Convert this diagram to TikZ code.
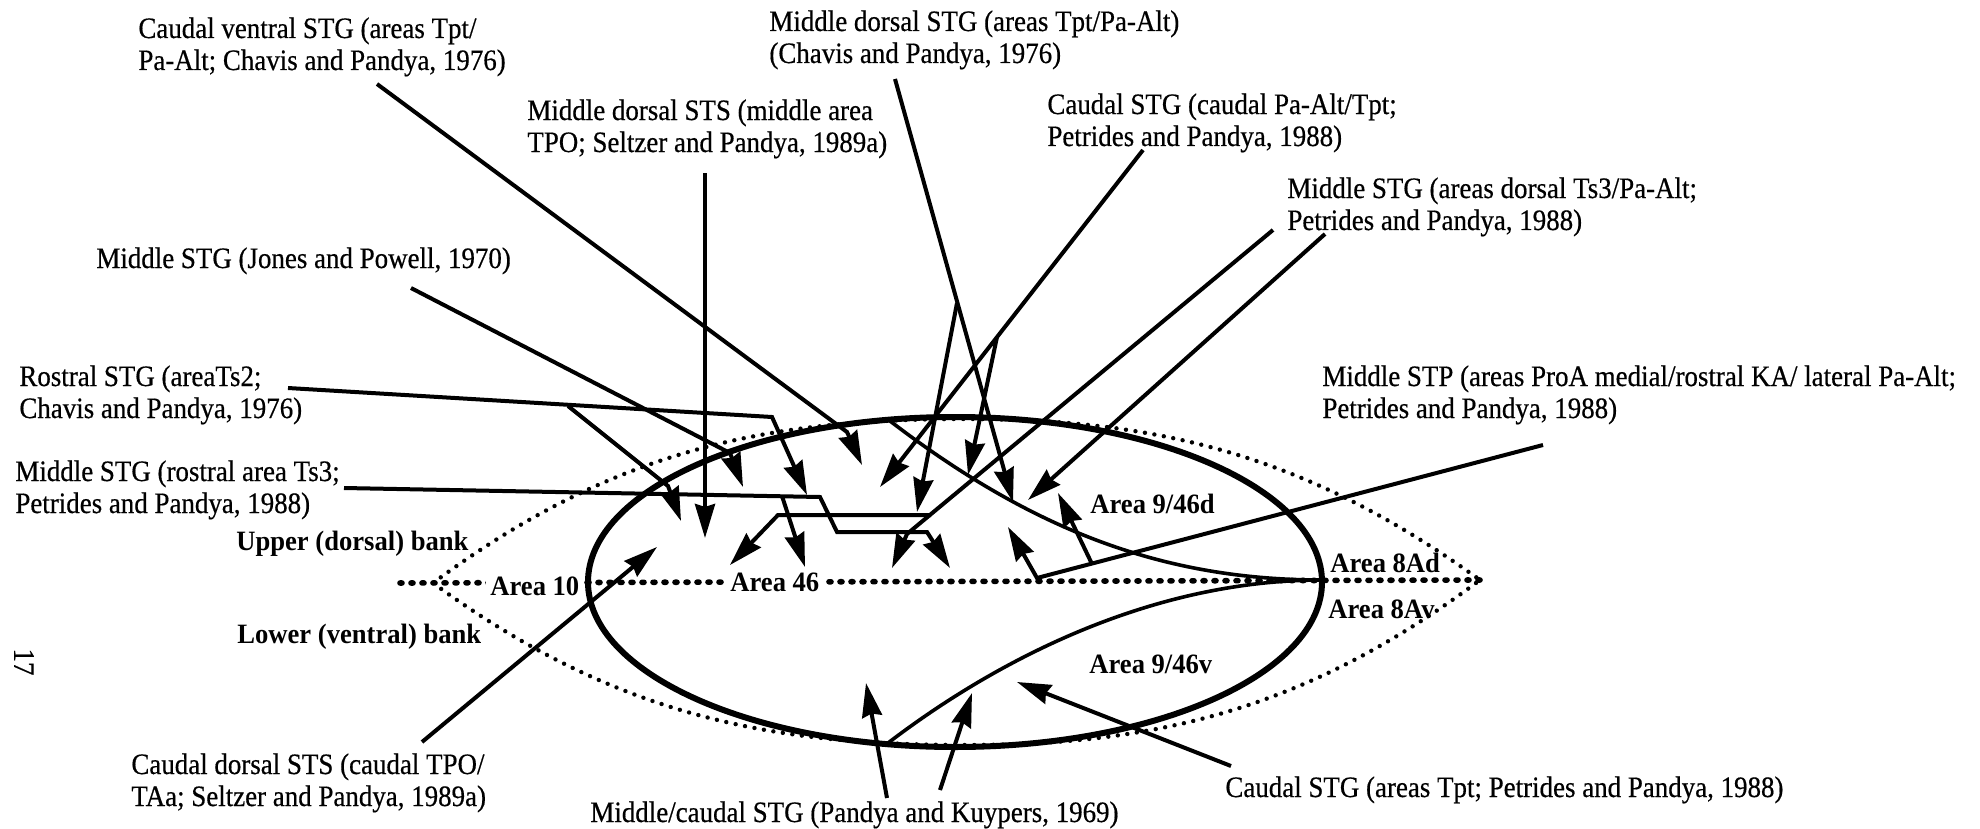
\documentclass[tikz,border=0pt]{standalone}
\usepackage{fontspec}
\setmainfont{Liberation Serif}[
  UprightFeatures={FakeStretch=0.91,FakeBold=0.5},
  BoldFeatures={FakeStretch=0.95}]
\usetikzlibrary{arrows.meta}
% two-line label whose baseline is that of its first line
\newcommand{\labtwo}[2]{\vtop{\hbox{\strut #1}\hbox{\strut #2}}}
\begin{document}
\begin{tikzpicture}[x=0.5pt,y=-0.5pt,
  lbl/.style={anchor=base west,inner sep=0pt,font=\fontsize{14.8}{16}\selectfont},
  area/.style={anchor=base west,inner sep=0pt,font=\fontsize{14}{16}\selectfont\bfseries},
  link/.style={line width=2pt},
  arr/.style={link,-{Stealth[length=17pt,width=10pt,inset=1.5pt]}},
  rim/.style={line width=3pt},
  border/.style={line width=1.8pt},
  lens/.style={line width=2.2pt,line cap=round,dash pattern=on 0pt off 4.8pt},
  fundus/.style={line width=2.8pt,line cap=round,dash pattern=on 1pt off 4.5pt}]
\useasboundingbox (0,0) rectangle (1980,829);

% sulcal lips (dotted lens) and fundus
\draw[lens] (433,583) .. controls (610,452) and (760,420) .. (956,419)
  .. controls (1152,418) and (1303,452) .. (1480,580)
  .. controls (1303,712) and (1152,746) .. (956,745)
  .. controls (760,744) and (610,712) .. (433,583);
\draw[fundus] (400,583) -- (1480,580);

% area labels sitting on the fundus
\node[area,fill=white,inner xsep=2pt] (a10) at (486,595) {Area 10};
\node[area,fill=white,inner xsep=2pt] (a46) at (726,591) {Area 46};

% prefrontal region and its subdivisions
\draw[rim] (955,582) ellipse [x radius=367, y radius=165];
\draw[border] (890,421) .. controls (1030,528) and (1160,580) .. (1322,580);
\draw[border] (888,743) .. controls (998,659) and (1152,580) .. (1322,580);

\node[area] (a946d) at (1090,513) {Area 9/46d};
\node[area] (a946v) at (1089,673) {Area 9/46v};
\node[area] (a8ad) at (1330,572) {Area 8Ad};
\node[area] (a8av) at (1328,618) {Area 8Av};
\node[area] (upper) at (236,550) {Upper (dorsal) bank};
\node[area] (lower) at (237,643) {Lower (ventral) bank};

% source labels
\node[lbl] (cvstg) at (138,38) {\labtwo{Caudal ventral STG (areas Tpt/}{Pa-Alt; Chavis and Pandya, 1976)}};
\node[lbl] (mdsts) at (527,120) {\labtwo{Middle dorsal STS (middle area}{TPO; Seltzer and Pandya, 1989a)}};
\node[lbl] (mdstg) at (769,31) {\labtwo{Middle dorsal STG (areas Tpt/Pa-Alt)}{(Chavis and Pandya, 1976)}};
\node[lbl] (cstga) at (1047,114) {\labtwo{Caudal STG (caudal Pa-Alt/Tpt;}{Petrides and Pandya, 1988)}};
\node[lbl] (mstgd) at (1287,198) {\labtwo{Middle STG (areas dorsal Ts3/Pa-Alt;}{Petrides and Pandya, 1988)}};
\node[lbl] (mstp) at (1322,386) {\labtwo{Middle STP (areas ProA medial/rostral KA/ lateral Pa-Alt;}{Petrides and Pandya, 1988)}};
\node[lbl] (mstgjp) at (96,268) {Middle STG (Jones and Powell, 1970)};
\node[lbl] (rstg) at (19,386) {\labtwo{Rostral STG (areaTs2;}{Chavis and Pandya, 1976)}};
\node[lbl] (mstgr) at (15,481) {\labtwo{Middle STG (rostral area Ts3;}{Petrides and Pandya, 1988)}};
\node[lbl] (cdsts) at (131,774) {\labtwo{Caudal dorsal STS (caudal TPO/}{TAa; Seltzer and Pandya, 1989a)}};
\node[lbl] (mcstg) at (590,822) {Middle/caudal STG (Pandya and Kuypers, 1969)};
\node[lbl] (cstgb) at (1225,797) {Caudal STG (areas Tpt; Petrides and Pandya, 1988)};
\node[lbl,rotate=-90,anchor=center] (page) at (24,662) {17};

% connector points
\coordinate (cv-s) at (377,84);   \coordinate (cv-k) at (847,432);  \coordinate (cv-t) at (862,465);
\coordinate (sts-s) at (705,173); \coordinate (sts-t) at (705,538);
\coordinate (l1-s) at (895,79);   \coordinate (l1-t) at (1013,502);
\coordinate (l1-b) at (957,303);  \coordinate (l1-bt) at (917,512);
\coordinate (l2-s) at (1143,150); \coordinate (l2-t) at (880,487);
\coordinate (l2-b) at (997,337);  \coordinate (l2-bt) at (968,475);
\coordinate (m1-s) at (1273,230); \coordinate (m1-k) at (907,534);  \coordinate (m1-t) at (892,568);
\coordinate (m1-b) at (931,515);  \coordinate (m1-c) at (778,515);  \coordinate (m1-bt) at (730,565);
\coordinate (m2-s) at (1325,234); \coordinate (m2-t) at (1028,500);
\coordinate (stp-s) at (1543,445); \coordinate (stp-c) at (1037,578); \coordinate (stp-t) at (1008,527);
\coordinate (stp-b) at (1092,564); \coordinate (stp-bt) at (1058,493);
\coordinate (jp-s) at (411,288);  \coordinate (jp-k) at (730,453);  \coordinate (jp-t) at (743,487);
\coordinate (rs-s) at (288,388);  \coordinate (rs-c) at (772,417);  \coordinate (rs-t) at (807,495);
\coordinate (rs-b) at (568,406);  \coordinate (rs-bk) at (668,486); \coordinate (rs-bt) at (681,521);
\coordinate (rt-s) at (344,488);  \coordinate (rt-a) at (820,497);  \coordinate (rt-b) at (837,532);
\coordinate (rt-c) at (927,532);  \coordinate (rt-t) at (950,568);
\coordinate (rt-j) at (782,496);  \coordinate (rt-jt) at (805,567);
\coordinate (cd-s) at (422,742);  \coordinate (cd-t) at (657,547);
\coordinate (mc1-s) at (887,798); \coordinate (mc1-t) at (866,683);
\coordinate (mc2-s) at (940,790); \coordinate (mc2-t) at (972,693);
\coordinate (ct-s) at (1231,766); \coordinate (ct-t) at (1017,682);

% projections
\draw[arr] (cv-s) -- (cv-k) -- (cv-t);
\draw[arr] (sts-s) -- (sts-t);
\draw[arr] (l1-s) -- (l1-t);
\draw[arr] (l1-b) -- (l1-bt);
\draw[arr] (l2-s) -- (l2-t);
\draw[arr] (l2-b) -- (l2-bt);
\draw[arr] (m1-s) -- (m1-k) -- (m1-t);
\draw[arr] (m1-b) -- (m1-c) -- (m1-bt);
\draw[arr] (m2-s) -- (m2-t);
\draw[arr] (stp-s) -- (stp-c) -- (stp-t);
\draw[arr] (stp-b) -- (stp-bt);
\draw[arr] (jp-s) -- (jp-k) -- (jp-t);
\draw[arr] (rs-s) -- (rs-c) -- (rs-t);
\draw[arr] (rs-b) -- (rs-bk) -- (rs-bt);
\draw[arr] (rt-s) -- (rt-a) -- (rt-b) -- (rt-c) -- (rt-t);
\draw[arr] (rt-j) -- (rt-jt);
\draw[arr] (cd-s) -- (cd-t);
\draw[arr] (mc1-s) -- (mc1-t);
\draw[arr] (mc2-s) -- (mc2-t);
\draw[arr] (ct-s) -- (ct-t);
\end{tikzpicture}
\end{document}
